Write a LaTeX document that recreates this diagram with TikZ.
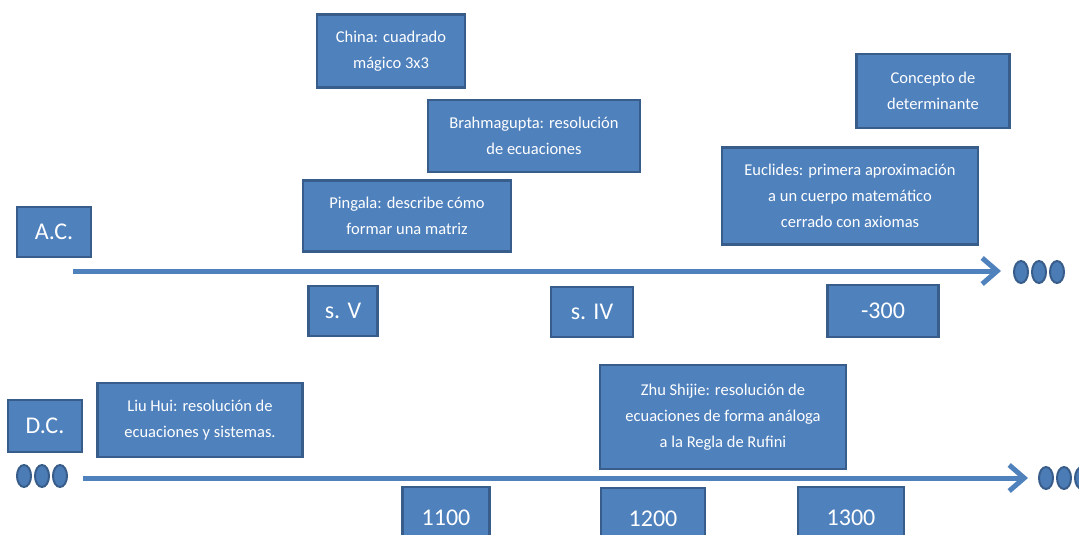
\documentclass[tikz,border=0pt]{standalone}
\usepackage{fontspec}
\setmainfont{Carlito}
\usepackage{xcolor}
\usetikzlibrary{arrows.meta,positioning,shapes.geometric}
\definecolor{boxBlue}{HTML}{4F81BD}
\definecolor{edgeBlue}{HTML}{385D8A}

\begin{document}
\begin{tikzpicture}[
    x=1pt,y=-1pt,
    event/.style={rectangle,draw=edgeBlue,fill=boxBlue,line width=2.5pt,text=white,
                  inner sep=0pt,align=center,font=\fontsize{16.5}{26}\selectfont},
    era/.style={event,font=\fontsize{24}{26}\selectfont},
    axis/.style={draw=boxBlue,line width=5pt,-{Straight Barb[length=15pt,width=26pt]}},
    dot/.style={ellipse,draw=edgeBlue,fill=boxBlue!85!edgeBlue,line width=2pt,
                minimum width=14pt,minimum height=22pt,inner sep=0pt}
  ]
  \useasboundingbox (0,0) rectangle (1079,535);
  \clip (0,0) rectangle (1079,535);
  %% A.C. line
  \node[era,minimum width=74pt,minimum height=50pt] (ac) at (54,232) {A.C.};
  \node[event,minimum width=148pt,minimum height=73pt] (china) at (391,51) {China: cuadrado\\mágico 3x3};
  \node[event,minimum width=212pt,minimum height=72pt] (brahma) at (534,136) {Brahmagupta: resolución\\de ecuaciones};
  \node[event,minimum width=208pt,minimum height=71pt] (pingala) at (407,216) {Pingala: describe cómo\\formar una matriz};
  \node[event,minimum width=153pt,minimum height=74pt] (determ) at (933,91) {Concepto de\\determinante};
  \node[event,minimum width=256pt,minimum height=97pt] (euclides) at (850,196) {Euclides: primera aproximación\\a un cuerpo matemático\\cerrado con axiomas};
  \coordinate (acstart) at (73,271);
  \coordinate (acend) at (1001,271);
  \draw[axis] (acstart) -- (acend);
  \foreach \i/\x in {1/1021,2/1039,3/1057}
    \node[dot] (acdot\i) at (\x,272) {};
  \node[era,minimum width=69pt,minimum height=50pt] (sV) at (343,311) {s. V};
  \node[era,minimum width=82pt,minimum height=50pt] (sIV) at (592,312) {s. IV};
  \node[era,minimum width=111pt,minimum height=52pt] (m300) at (883,311) {-300};
  %% D.C. line
  \node[era,minimum width=74pt,minimum height=52pt] (dc) at (45,426) {D.C.};
  \node[event,minimum width=205pt,minimum height=74pt] (liuhui) at (200,420) {Liu Hui: resolución de\\ecuaciones y sistemas.};
  \node[event,minimum width=246pt,minimum height=104pt] (zhu) at (723,417) {Zhu Shijie: resolución de\\ecuaciones de forma análoga\\a la Regla de Rufini};
  \foreach \i/\x in {1/24,2/42,3/60}
    \node[dot] (dcdot\i) at (\x,476) {};
  \coordinate (dcstart) at (83,478);
  \coordinate (dcend) at (1028,478);
  \draw[axis] (dcstart) -- (dcend);
  \foreach \i/\x in {1/1046,2/1064,3/1082}
    \node[dot] (dcend\i) at (\x,478) {};
  \node[era,minimum width=87pt,minimum height=62pt] (y1100) at (446,518) {1100};
  \node[era,minimum width=104pt,minimum height=62pt] (y1200) at (653,519) {1200};
  \node[era,minimum width=106pt,minimum height=62pt] (y1300) at (851,518) {1300};
\end{tikzpicture}
\end{document}
